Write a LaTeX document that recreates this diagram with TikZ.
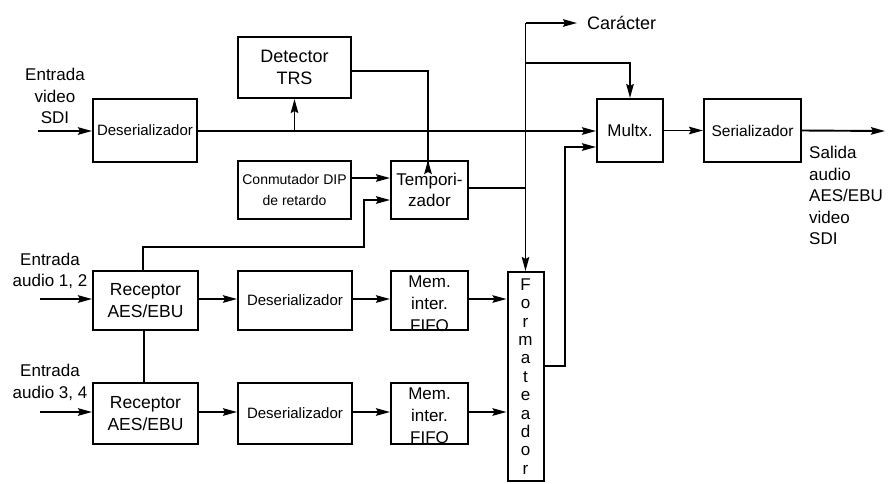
\documentclass[tikz,border=0pt]{standalone}
\usepackage{fontspec}
\setmainfont{Liberation Sans}
\usetikzlibrary{arrows.meta,calc}
\begin{document}
\begin{tikzpicture}[x=1pt,y=-1pt,
  blk/.style={draw,line width=2pt,inner sep=0pt,align=center,font=\fontsize{17}{21.5}\selectfont},
  ln/.style={line width=1.9pt},
  arr/.style={line width=1.9pt,-{Stealth[length=14pt,width=7.5pt,inset=2pt]}},
  lbl/.style={inner sep=0pt,align=center,font=\fontsize{17}{21.5}\selectfont}]
\useasboundingbox (0,0) rectangle (890,483);
% boxes
\node[blk,minimum width=104pt,minimum height=63pt,font=\fontsize{15}{18}\selectfont] (des1) at (145,130.5) {Deserializador};
\node[blk,minimum width=113pt,minimum height=61pt,font=\fontsize{18}{22}\selectfont] (det) at (294.5,67.5) {Detector\\TRS};
\node[blk,minimum width=113pt,minimum height=58pt,font=\fontsize{14}{21.5}\selectfont] (dip) at (294.5,190) {Conmutador DIP\\de retardo};
\node[blk,minimum width=77pt,minimum height=58pt] (tmp) at (429.5,190) {Tempori-\\zador};
\node[blk,minimum width=66pt,minimum height=63pt] (mux) at (630,130.5) {Multx.};
\node[blk,minimum width=97pt,minimum height=63pt,font=\fontsize{15.5}{18}\selectfont] (ser) at (752.5,130.5) {Serializador};
\node[blk,minimum width=105pt,minimum height=59pt,font=\fontsize{17.5}{21.5}\selectfont] (rec1) at (145.5,300.5) {Receptor\\AES/EBU};
\node[blk,minimum width=105pt,minimum height=61pt,font=\fontsize{17.5}{21.5}\selectfont] (rec2) at (145.5,413.5) {Receptor\\AES/EBU};
\node[blk,minimum width=114pt,minimum height=59pt,font=\fontsize{15}{18}\selectfont] (des2) at (295,300.5) {Deserializador};
\node[blk,minimum width=114pt,minimum height=61pt,font=\fontsize{15}{18}\selectfont] (des3) at (295,413.5) {Deserializador};
\node[blk,minimum width=77pt,minimum height=59pt] (mem1) at (429.5,300.5) {};
\node[blk,minimum width=77pt,minimum height=61pt] (mem2) at (429.5,413.5) {};
\node[blk,minimum width=36pt,minimum height=209pt,font=\fontsize{17}{18.4}\selectfont] (fmt) at (525.5,376.5) {F\\o\\r\\m\\a\\t\\e\\a\\d\\o\\r};
\begin{scope}
  \clip (mem1.north west) rectangle (mem1.south east);
  \node[lbl,anchor=north,font=\fontsize{17}{22}\selectfont] (mem1t) at (429.5,275.5) {Mem.\\inter.\\FIFO};
\end{scope}
\begin{scope}
  \clip (mem2.north west) rectangle (mem2.south east);
  \node[lbl,anchor=north,font=\fontsize{17}{22}\selectfont] (mem2t) at (429.5,387.5) {Mem.\\inter.\\FIFO};
\end{scope}
% labels
\node[lbl] (invid) at (55,96) {Entrada\\video\\SDI};
\node[lbl] (ina1) at (50,271) {Entrada\\audio 1, 2};
\node[lbl] (ina2) at (50,382.5) {Entrada\\audio 3, 4};
\node[lbl,align=left,anchor=north west] (outl) at (809,146) {Salida\\audio\\AES/EBU\\video\\SDI};
\node[inner sep=0pt,inner xsep=10pt,anchor=west,font=\fontsize{18}{22}\selectfont] (car) at (577,23) {Carácter};
% coordinates
\coordinate (vin) at (38,131);
\coordinate (a1in) at (40,299);
\coordinate (a2in) at (40,412);
\coordinate (vout) at (885,131);
\coordinate (ctop) at (525.5,23);
\coordinate (mux2) at (565,147);
% connectors
\draw[arr] (vin) -- (des1.west |- vin);
\draw[arr] (des1.east |- vin) -- (mux.west |- vin);
\draw[arr] (det.south |- vin) -- (det.south);
\draw[arr] (det.east |- 0,71) -| (428,161) -- (tmp.north -| 428,0);
\draw[arr] (dip.east |- 0,178) -- (tmp.west |- 0,178);
\draw[arr] (rec1.north -| 143,0) |- (364,247) |- (tmp.west |- 0,200);
\draw[ln] (tmp.east |- 0,188) -- (ctop |- 0,188);
\draw[arr] (ctop) -- (fmt.north);
\draw[arr] (ctop) -- (car.west);
\draw[arr] (ctop |- 0,63) -| (mux.north);
\draw[arr] (fmt.east |- 0,366) -| (mux2) -- (mux.west |- mux2);
\draw[arr] (mux.east) -- (ser.west);
\draw[arr] (ser.east) -- (vout);
\draw[arr] (a1in) -- (rec1.west |- a1in);
\draw[arr] (a2in) -- (rec2.west |- a2in);
\draw[arr] (rec1.east |- a1in) -- (des2.west |- a1in);
\draw[arr] (des2.east |- a1in) -- (mem1.west |- a1in);
\draw[arr] (mem1.east |- a1in) -- (fmt.west |- a1in);
\draw[arr] (rec2.east |- a2in) -- (des3.west |- a2in);
\draw[arr] (des3.east |- a2in) -- (mem2.west |- a2in);
\draw[arr] (mem2.east |- a2in) -- (fmt.west |- a2in);
\draw[ln] (rec1.south -| 144,0) -- (rec2.north -| 144,0);
\end{tikzpicture}
\end{document}
